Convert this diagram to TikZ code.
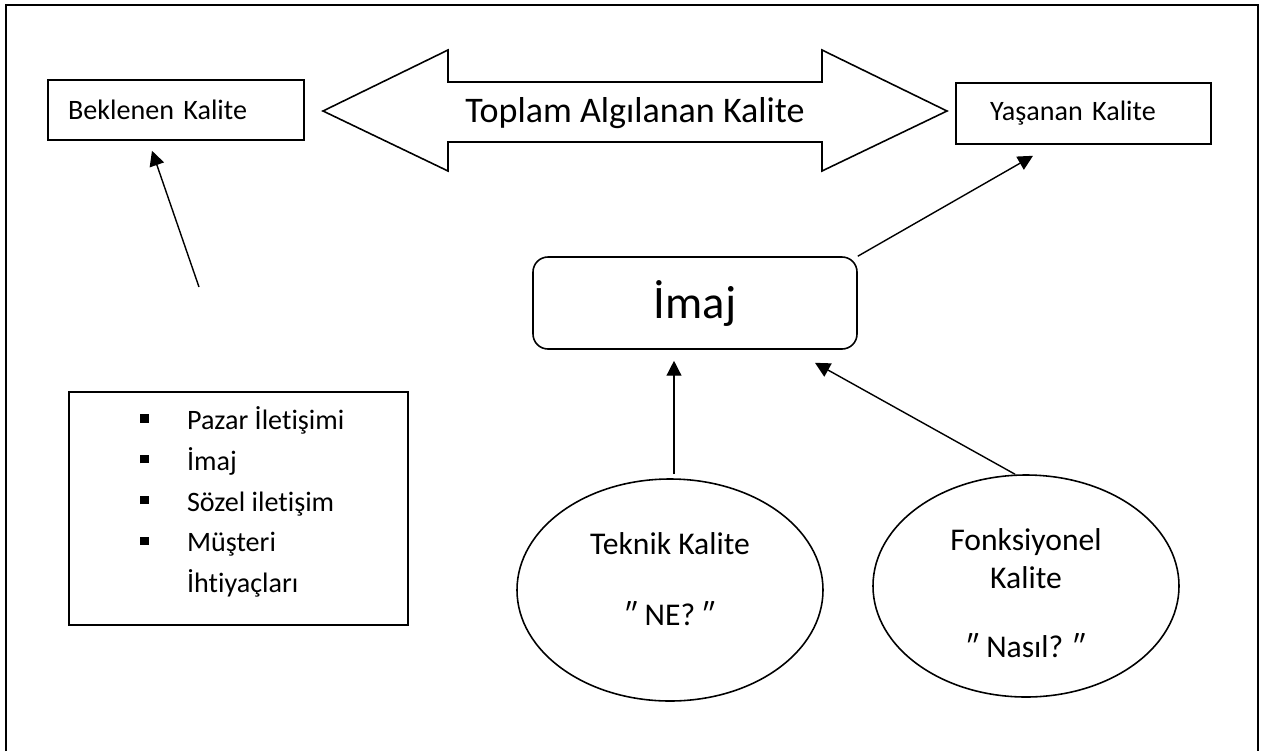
\documentclass[tikz,border=0pt]{standalone}
\usepackage{fontspec}
\setmainfont{Carlito}[Ligatures=NoCommon]
\usetikzlibrary{arrows.meta,shapes.geometric,calc}
% small square bullet for the list
\newcommand\sqbul{\rule[4pt]{4.7pt}{4.7pt}}
\begin{document}
\begin{tikzpicture}[x=0.02cm,y=-0.02cm,
  frame/.style={line width=1.4pt},
  box/.style={draw, rectangle, line width=0.9pt, inner ysep=0pt, align=left,
    font=\fontsize{16}{19}\selectfont},
  arr/.style={line width=0.8pt, -{Triangle[length=8.5pt,width=8.5pt]}},
  oval/.style={draw, ellipse, line width=0.9pt, minimum width=306*0.02cm,
    minimum height=222*0.02cm, inner sep=0pt},
  txt/.style={align=center, inner sep=0pt, font=\fontsize{18}{21.5}\selectfont},
]
\useasboundingbox (0,0) rectangle (1261,751);

% page frame, open at the bottom
\draw[frame] (6,751) -- (6,5) -- (1258,5) -- (1258,751);

% the two quality boxes
\node[box, minimum width=256*0.02cm, minimum height=60*0.02cm,
  inner xsep=20*0.02cm, text width=216*0.02cm] (bek) at (176,110) {Beklenen Kalite};
\node[box, minimum width=255*0.02cm, minimum height=61*0.02cm,
  inner xsep=34*0.02cm, text width=187*0.02cm] (yas) at (1083.5,113.5) {Yaşanan Kalite};

% double-headed block arrow between them
\draw[line width=0.9pt, line join=miter]
  (323,111) -- (448,50) -- (448,82) -- (822,82) -- (822,50) -- (947,111)
  -- (822,171) -- (822,142) -- (448,142) -- (448,171) -- cycle;
\node[inner sep=0pt, font=\fontsize{20.5}{24}\selectfont] (total) at (635,113)
  {Toplam Algılanan Kalite};

% image box
\node[draw, rectangle, rounded corners=0.3cm, line width=0.9pt,
  minimum width=324*0.02cm, minimum height=92*0.02cm,
  font=\fontsize{26.5}{31}\selectfont] (imaj) at (695,303) {İmaj};

% list of expectation sources
\node[draw, rectangle, line width=0.9pt, minimum width=339*0.02cm,
  minimum height=233*0.02cm] (listbox) at (238.5,508.5) {};
\node[anchor=west, inner sep=0pt, font=\fontsize{16}{23.2}\selectfont] (items) at (140,503)
  {\begin{tabular}{@{}p{26.6pt}@{}l@{}}
    \sqbul & Pazar İletişimi\\
    \sqbul & İmaj\\
    \sqbul & Sözel iletişim\\
    \sqbul & Müşteri\\
           & İhtiyaçları
  \end{tabular}};

% technical and functional quality
\node[oval] (tek) at (670,590) {};
\node[txt] (tektxt) at (670,579) {Teknik Kalite\\[19.3pt]″ NE? ″};
\node[oval] (fonk) at (1026,586) {};
\node[txt] (fonktxt) at (1026,593) {Fonksiyonel\\Kalite\\[17.6pt]″ Nasıl? ″};

% connectors
\coordinate (bsrc) at (199,287);
\draw[arr] (bsrc) -- ($(bek.south)+(-24,10)$);
\draw[arr] (imaj.north east) -- ($(yas.south)+(-50.5,11)$);
\draw[arr] ($(tek.north)+(4,-4)$) -- ($(imaj.south)+(-21,11)$);
\draw[arr] ($(fonk.north)+(-11,0)$) -- ($(imaj.south)+(120,13)$);
\end{tikzpicture}
\end{document}
